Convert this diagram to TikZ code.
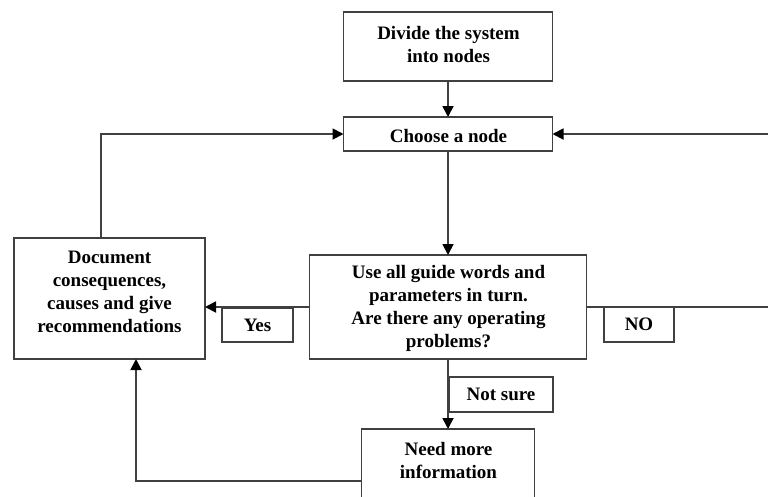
\documentclass[tikz,border=0pt]{standalone}
\usepackage{fontspec}
\setmainfont{Liberation Serif}
\usetikzlibrary{arrows.meta}
\begin{document}
\begin{tikzpicture}[x=1pt,y=-1pt,
  line/.style={draw=black!75, line width=1.8pt},
  arr/.style={line, -{Triangle[length=11pt,width=11pt,color=black]}},
  box/.style={line, fill=white, inner sep=0pt, outer sep=0pt},
  txt/.style={align=center, inner sep=0pt, font=\fontsize{19}{23}\selectfont\bfseries},
  tag/.style={box, font=\fontsize{19}{23}\selectfont\bfseries}
]
\useasboundingbox (0,0) rectangle (768,496);
\clip (0,0) rectangle (768,496);

% process boxes
\node[box, minimum width=209pt, minimum height=69pt]  (divide)   at (448,46.5) {};
\node[box, minimum width=209pt, minimum height=34pt]  (choose)   at (448,134)  {};
\node[box, minimum width=277pt, minimum height=104pt] (decision) at (448,307)  {};
\node[box, minimum width=191pt, minimum height=121pt] (doc)      at (109.5,298.5) {};
\node[box, minimum width=173pt, minimum height=104pt] (need)     at (448,481)  {};

% box texts
\node[txt] (divideT)   at (448.5,44)  {Divide the system\\into nodes};
\node[txt] (chooseT)   at (448.5,135.5) {Choose a node};
\node[txt] (decisionT) at (448.5,308) {Use all guide words and\\parameters in turn.\\Are there any operating\\problems?};
\node[txt] (docT)      at (109.5,291.5) {Document\\consequences,\\causes and give\\recommendations};
\node[txt] (needT)     at (448.5,460) {Need more\\information};

% loose ends leaving the drawing on the right
\coordinate (backR) at (790,134);
\coordinate (noR)   at (790,307);

% connectors
\draw[arr] (divide.south) -- (choose.north);
\draw[arr] (choose.south) -- (decision.north);
\draw[arr] (decision.west) -- (decision.west -| doc.east);
\draw[arr] ([xshift=-8.5pt]doc.north) |- (choose.west);
\draw[arr] (backR) -- (choose.east);
\draw[line] (decision.east) -- (noR);
\draw[arr] (decision.south) -- (need.north);
\draw[arr] (need.west) -| ([xshift=26.5pt]doc.south);

% answer tags
\node[tag, minimum width=71pt, minimum height=34pt]  (yes)     at (257.5,325)   {Yes};
\node[tag, minimum width=70pt, minimum height=35pt]  (no)      at (639,324.5)   {NO};
\node[tag, minimum width=104pt, minimum height=35pt] (notsure) at (501,394.5)   {Not sure};
\end{tikzpicture}
\end{document}
